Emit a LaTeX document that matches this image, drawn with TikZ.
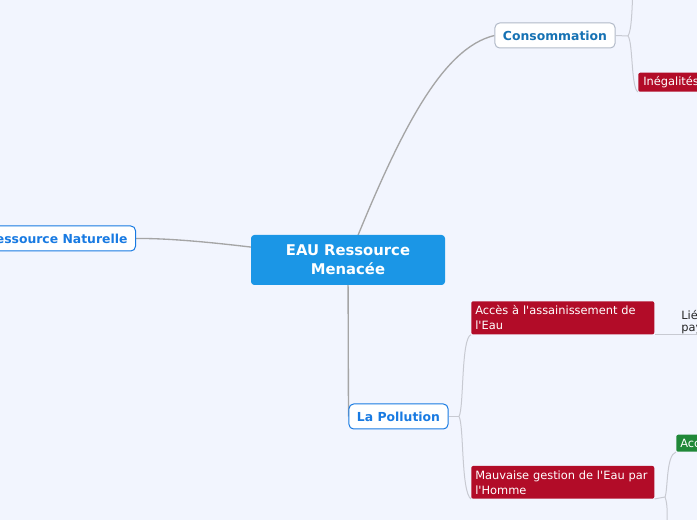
\documentclass[tikz,border=0pt]{standalone}
\usepackage{fontspec}
\newfontfamily\mapfont{DejaVu Sans}
\usepackage{xcolor}
\usepackage{tikz}
\usetikzlibrary{positioning, backgrounds, calc}

\definecolor{pagebg}{RGB}{242,245,254}
\definecolor{corenode}{RGB}{27,150,230}
\definecolor{topicblue}{RGB}{24,122,226}
\definecolor{topicdark}{RGB}{22,114,180}
\definecolor{topicgray}{RGB}{178,186,200}
\definecolor{subred}{RGB}{178,12,40}
\definecolor{subgreen}{RGB}{32,136,56}
\definecolor{linkmain}{RGB}{165,165,165}
\definecolor{linksub}{RGB}{200,202,210}

\tikzstyle{core}     = [rectangle, rounded corners=2.5pt, minimum width=145.5pt, minimum height=37.5pt, align=center, fill=corenode, text=white, font=\mapfont\bfseries\fontsize{11.1}{14.25}\selectfont]
\tikzstyle{topic}    = [rectangle, rounded corners=3.5pt, minimum height=18.75pt, inner xsep=6pt, fill=white, draw=topicblue, line width=0.75pt, text=topicblue, font=\mapfont\bfseries\fontsize{9.3}{11}\selectfont]
\tikzstyle{redbox}   = [rectangle, rounded corners=1.5pt, anchor=north west, text width=131.25pt, inner xsep=3pt, minimum height=24pt, align=left, fill=subred, text=white, font=\mapfont\fontsize{8.56}{11.25}\selectfont]
\tikzstyle{greenbox} = [rectangle, rounded corners=1.5pt, anchor=south west, text width=40pt, inner xsep=3pt, inner ysep=1pt, minimum height=12.75pt, align=left, fill=subgreen, text=white, font=\mapfont\fontsize{8.56}{10}\selectfont]
\tikzstyle{note}     = [anchor=south west, inner sep=0pt, text width=40pt, align=left, text=black!85, font=\mapfont\fontsize{8.56}{9}\selectfont]
\tikzstyle{mainlink} = [draw=linkmain, line width=1pt]
\tikzstyle{sublink}  = [draw=linksub, line width=0.75pt]

\begin{document}
\begin{tikzpicture}[x=0.75pt, y=-0.75pt]

\useasboundingbox (0,0) rectangle (697,520);
\begin{scope}[on background layer]
\fill [pagebg] (0,0) rectangle (697,520);
\end{scope}
\clip (0,0) rectangle (697,520);

\node (core) [core] at (348,260) {EAU Ressource\\Menacée};
\node (conso) [topic, draw=topicgray, text=topicdark, minimum width=90pt] at (555,35.5) {Consommation};
\node (nature) [topic, anchor=east] at (136,238.5) {Ressource Naturelle};
\node (pollu) [topic, minimum width=74.25pt] at (398.5,416.5) {La Pollution};

\node (acces) [redbox] at (471,301) {Accès à l'assainissement de\\l'Eau};
\node (gestion) [redbox, below=98.25pt of acces] {Mauvaise gestion de l'Eau par\\l'Homme};
\node (ineg) [redbox, anchor=south west, text width=60pt, minimum height=14.25pt, inner xsep=3.75pt, inner ysep=2pt] at (638,92) {Inégalités};
\node (lie) [note] at (681,334) {Lié\\pay};
\node (acc) [greenbox] at (676,452) {Acc};

\coordinate (consofork) at (628,36);
\coordinate (consoup) at (633,-10);
\coordinate (pollufork) at (459,416.5);
\coordinate (gestionfork) at (665,497);
\coordinate (gestiondown) at (667,530);

\begin{scope}[on background layer]
% main branches
\draw [mainlink] (core.center) .. controls (400,130) and (442,48) .. (conso.west);
\draw [mainlink] (core.center) .. controls (250,246) and (180,238) .. (nature.east);
\draw [mainlink] (core.center) -- (pollu.west);

% Consommation
\draw [sublink] (conso.east) -- (consofork);
\draw [sublink] (consofork) .. controls (632,30) and (632,5) .. (consoup);
\draw [sublink] (consofork) .. controls (633,42) and (631,88) .. (ineg.south west);

% La Pollution
\draw [sublink] (pollu.east) -- (pollufork);
\draw [sublink] (pollufork) .. controls (464,408) and (461,338) .. (acces.south west);
\draw [sublink] (pollufork) .. controls (464,425) and (461,492) .. (gestion.south west);
\draw [sublink] (acces.south east) -- (acces.south east -| lie.east);

% Mauvaise gestion
\draw [sublink] (gestion.south east) -- (gestionfork);
\draw [sublink] (gestionfork) .. controls (668,490) and (666,455) .. (acc.south west);
\draw [sublink] (gestionfork) .. controls (668,505) and (667,515) .. (gestiondown);
\end{scope}

\end{tikzpicture}
\end{document}
